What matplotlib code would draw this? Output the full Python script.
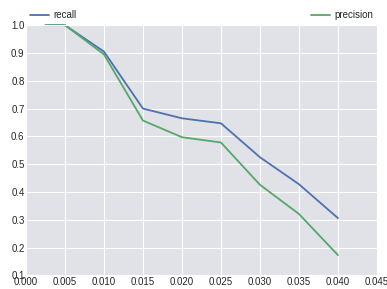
import matplotlib
matplotlib.use("Agg")
import matplotlib.pyplot as plt
import seaborn as sns

thresholds = [0.0025, 0.005, 0.010, 0.015, 0.020, 0.025, 0.030, 0.035, 0.040]
recall = [1.0, 1.0, 0.905, 0.700, 0.665, 0.647, 0.525, 0.428, 0.306]
precision = [1.0, 1.0, 0.895, 0.657, 0.597, 0.578, 0.426, 0.321, 0.173]

sns.set_style("darkgrid", {"axes.facecolor": "#E1E1E8"})
plt.rcParams['font.family'] = ['Liberation Sans', 'DejaVu Sans']
plt.rcParams['font.size'] = 7

fig = plt.figure(figsize=(3.87, 2.89), dpi=100)
ax = fig.add_axes([0.067, 0.047, 0.907, 0.866])

ax.plot(thresholds, recall, color="#4C72B0", lw=1.3, label="recall", clip_on=False)
ax.plot(thresholds, precision, color="#55A868", lw=1.3, label="precision", clip_on=False)

ax.set_xlim(0, 0.045)
ax.set_ylim(0.1, 1.0)
ax.set_xticks([0.000, 0.005, 0.010, 0.015, 0.020, 0.025, 0.030, 0.035, 0.040, 0.045])
ax.set_yticks([0.1, 0.2, 0.3, 0.4, 0.5, 0.6, 0.7, 0.8, 0.9, 1.0])
ax.tick_params(labelsize=7, colors=".15", pad=1, length=0)

# legend sits above the plot, one entry at each end
ax.legend(bbox_to_anchor=(0, 1.005, 1, 0.1), loc="lower left", ncol=2,
          mode="expand", borderaxespad=0, frameon=False, fontsize=7,
          handlelength=2.0, handletextpad=0.4)

fig.savefig("out.png", dpi=100)
